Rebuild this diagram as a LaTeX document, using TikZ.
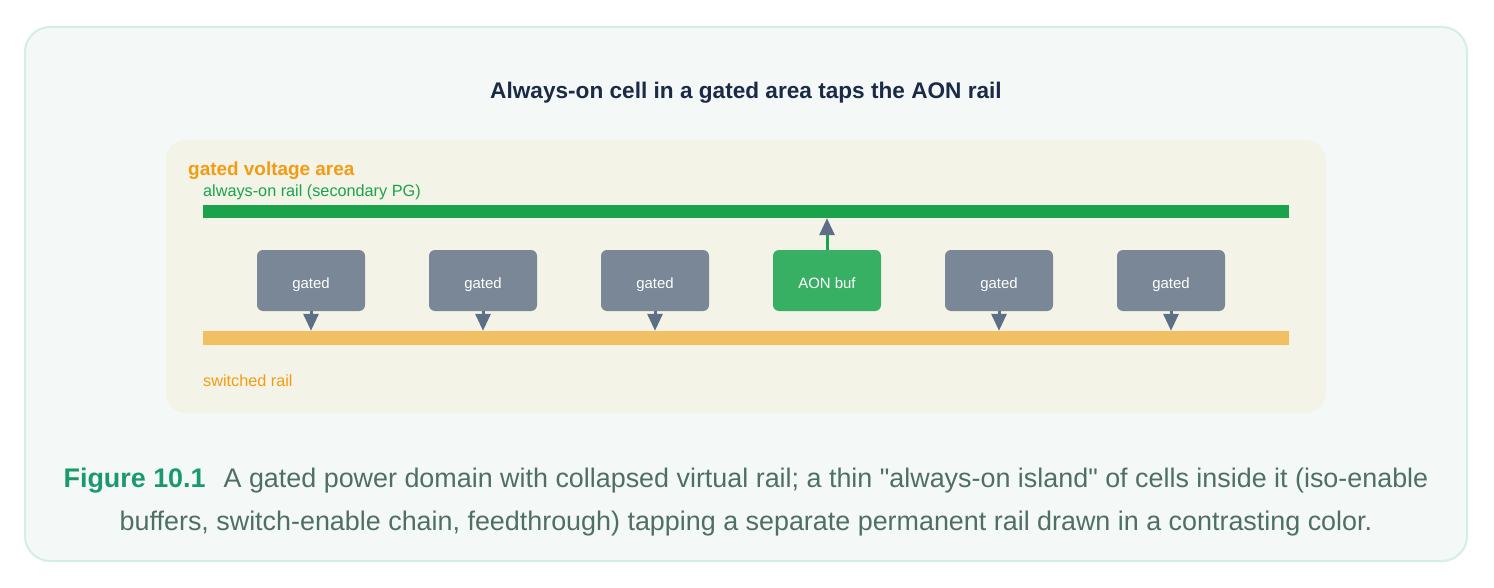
\documentclass[tikz,border=0pt]{standalone}
\usepackage{fontspec}
\setmainfont{Liberation Sans}
\usetikzlibrary{arrows.meta}

\definecolor{panelbg}{HTML}{F4F9F7}
\definecolor{panelline}{HTML}{D4EEE5}
\definecolor{areabg}{HTML}{F3F3E7}
\definecolor{titlecol}{HTML}{1B2A47}
\definecolor{areacol}{HTML}{F39C12}
\definecolor{aoncol}{HTML}{1AA34A}
\definecolor{swcol}{HTML}{F2C063}
\definecolor{gatedcol}{HTML}{7A8797}
\definecolor{bufcol}{HTML}{38B063}
\definecolor{tipcol}{HTML}{5E6E85}
\definecolor{figcol}{HTML}{1A9A6C}
\definecolor{capcol}{HTML}{4F6F66}

\tikzset{
  cell/.style={rounded corners=6bp, minimum width=108bp, minimum height=61bp,
    inner sep=0pt, text height=16.5bp, text depth=0pt, text=white, font=\fontsize{15}{18}\selectfont},
  rail/.style={minimum width=1086bp, inner sep=0pt},
  tap/.style={line width=3bp, -{Triangle[length=17bp,width=15bp,color=tipcol]}},
  label/.style={anchor=base west, inner sep=0pt, font=\fontsize{16.3}{19}\selectfont}
}

\begin{document}
\begin{tikzpicture}[x=1bp,y=-1bp]
\useasboundingbox (0,0) rectangle (1494,588);
%%
  % Panel
  \draw [fill=panelbg, draw=panelline, line width=2bp, rounded corners=25bp] (25,27) rectangle (1467,561);
  \node (title) at (746,93) {\fontsize{22.7}{26}\selectfont\bfseries\color{titlecol}Always-on cell in a gated area taps the AON rail};
  % Area
  \fill [areabg, rounded corners=20bp] (166,140) rectangle (1326,413);
  \node [label, text=areacol, font=\fontsize{19}{22}\selectfont\bfseries] (area) at (188,176) {gated voltage area};
  \node [label, text=aoncol] (aonlbl) at (203,197) {always-on rail (secondary PG)};
  \node [label, text=areacol] (swlbl) at (203,386) {switched rail};
  % Rails
  \node [rail, fill=aoncol, minimum height=13bp] (aon) at (746,211.5) {};
  \node [rail, fill=swcol, minimum height=14bp] (sw) at (746,338) {};
  % Node: g1
  \node [cell, fill=gatedcol] (g1) at (311,280.5) {gated};
  % Node: g2
  \node [cell, fill=gatedcol] (g2) at (483,280.5) {gated};
  % Node: g3
  \node [cell, fill=gatedcol] (g3) at (655,280.5) {gated};
  % Node: buf
  \node [cell, fill=bufcol] (buf) at (827,280.5) {AON buf};
  % Node: g4
  \node [cell, fill=gatedcol] (g4) at (999,280.5) {gated};
  % Node: g5
  \node [cell, fill=gatedcol] (g5) at (1171,280.5) {gated};
  % Edge: g1 -- sw
  \draw [tap, tipcol] (g1.south) -- (g1.south |- sw.north);
  % Edge: g2 -- sw
  \draw [tap, tipcol] (g2.south) -- (g2.south |- sw.north);
  % Edge: g3 -- sw
  \draw [tap, tipcol] (g3.south) -- (g3.south |- sw.north);
  % Edge: g4 -- sw
  \draw [tap, tipcol] (g4.south) -- (g4.south |- sw.north);
  % Edge: g5 -- sw
  \draw [tap, tipcol] (g5.south) -- (g5.south |- sw.north);
  % Edge: buf -- aon
  \draw [tap, aoncol] (buf.north) -- (buf.north |- aon.south);
  % Caption
  \node [align=center, font=\fontsize{27}{44}\selectfont, text=capcol] (cap) at (746,502)
    {{\color{figcol}\bfseries Figure 10.1}\hspace{18bp}A gated power domain with collapsed virtual rail; a thin \textquotedbl always-on island\textquotedbl{} of cells inside it (iso-enable\\
     buffers, switch-enable chain, feedthrough) tapping a separate permanent rail drawn in a contrasting color.};
%
\end{tikzpicture}
\end{document}
